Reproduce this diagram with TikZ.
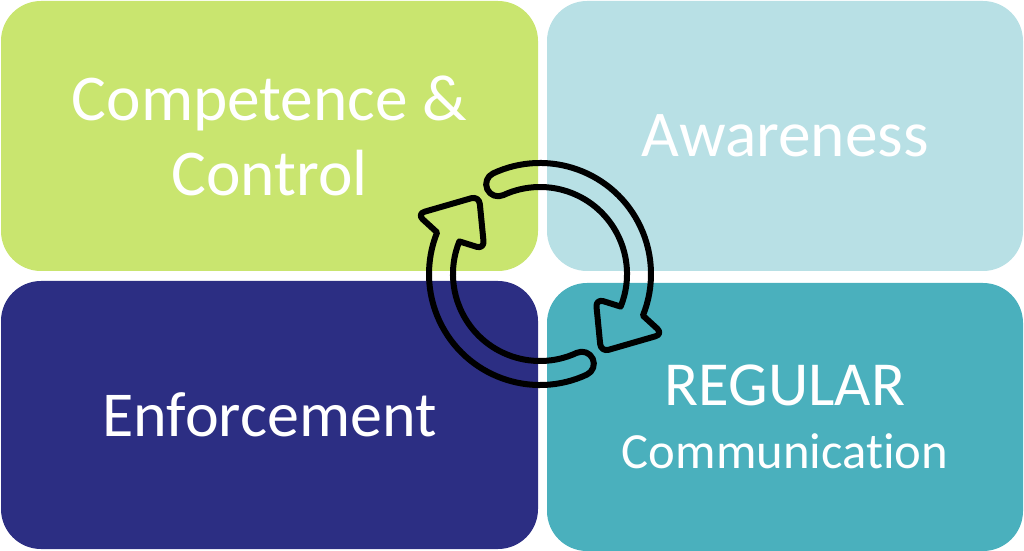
\documentclass[tikz,border=0pt]{standalone}
\usepackage{fontspec}
\setmainfont{Carlito}[Ligatures=NoCommon]
\definecolor{lime}{RGB}{201,229,111}
\definecolor{paleblue}{RGB}{184,224,229}
\definecolor{navy}{RGB}{44,46,131}
\definecolor{teal}{RGB}{74,176,189}
\tikzset{
  quad/.style={rounded corners=30pt,inner sep=0pt,text=white,align=center,
    minimum width=#1},
  cyclearrow/.style={draw=black,line width=4.5pt,line join=round}
}
\begin{document}
\begin{tikzpicture}[x=0.75pt,y=0.75pt]
  \useasboundingbox (0,0) rectangle (1024,550);
  \node [quad=402.75pt,minimum height=202.5pt,fill=lime,
    font=\fontsize{49}{56}\selectfont] (cc) at (269.5,414) {Competence \&\\Control};
  \node [quad=357pt,minimum height=202.5pt,fill=paleblue,
    font=\fontsize{49}{56}\selectfont] (aw) at (785,414) {Awareness};
  \node [quad=402.75pt,minimum height=201pt,fill=navy,
    font=\fontsize{48}{52}\selectfont] (en) at (269.5,135) {Enforcement};
  \node [quad=357pt,minimum height=201pt,fill=teal,
    font=\fontsize{47}{47}\selectfont] (rc) at (785,133)
    {REGULAR\\\fontsize{38}{47}\selectfont Communication};
  \foreach \r in {0,180} {
    \begin{scope}[shift={(540,276)},rotate=\r]
      \draw [cyclearrow] (115:111) arc [start angle=115,end angle=-22,radius=111]
        [rounded corners=6pt] -- (-26:137) -- (-52:99) -- (-24:61)
        [sharp corners] -- (-22:87) arc [start angle=-22,end angle=115,radius=87]
        arc [start angle=295,end angle=115,radius=12] -- cycle ;
    \end{scope}
  }
\end{tikzpicture}
\end{document}
